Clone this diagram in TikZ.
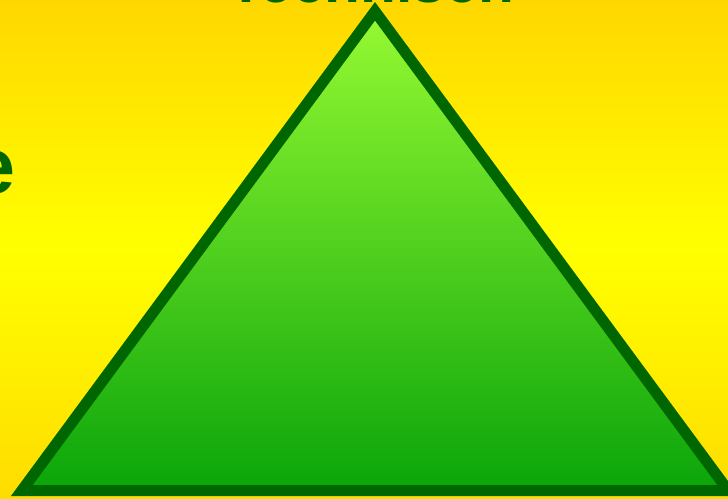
\documentclass[tikz,border=0pt]{standalone}
\usepackage{fontspec}
\setmainfont{Liberation Sans}
\definecolor{bggold}{HTML}{FFD700}
\definecolor{bgyellow}{HTML}{FFFF00}
\definecolor{bgbottom}{HTML}{FFDC00}
\definecolor{leaflight}{HTML}{96FA32}
\definecolor{leafdark}{HTML}{0AA50A}
\definecolor{edgegreen}{HTML}{006600}
\tikzset{
    label text/.style={inner sep=0pt, text=edgegreen, font=\bfseries\fontsize{33.4}{40}\selectfont},
    side text/.style={inner sep=0pt, text=edgegreen, font=\bfseries\fontsize{45}{54}\selectfont},
}
\begin{document}
\begin{tikzpicture}[x=0.02cm, y=-0.02cm]
    \useasboundingbox (0,0) rectangle (728,498);
    \clip (0,0) rectangle (728,498);
    \shade[top color=bggold, bottom color=bgbottom, middle color=bgyellow] (0,0) rectangle (728,498);

    \node[label text, anchor=base] (technisch) at (371,2.5) {Technisch};
    \node[side text, anchor=base east] (termine) at (15.5,193) {Termine};

    \coordinate (apex) at (375,11.3);
    \coordinate (baseleft) at (21.8,490.5);
    \coordinate (baseright) at (728.2,490.5);
    \draw[line width=0.22cm, draw=edgegreen, top color=leaflight, bottom color=leafdark] (apex) -- (baseleft) -- (baseright) -- cycle;
\end{tikzpicture}
\end{document}
